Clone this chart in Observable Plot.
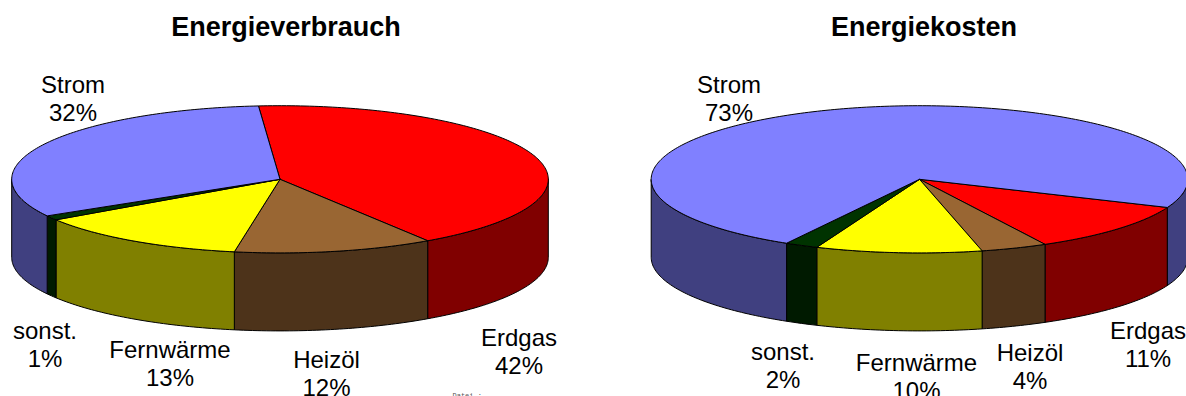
<!DOCTYPE html>
<html lang="de">
<head>
<meta charset="utf-8">
<title>Energieverbrauch und Energiekosten</title>
<script src="https://cdn.jsdelivr.net/npm/d3@7"></script>
<script src="https://cdn.jsdelivr.net/npm/@observablehq/plot@0.6"></script>
<style>
  html, body { margin: 0; padding: 0; background: #fff; overflow: hidden; }
  svg { display: block; overflow: hidden; }
</style>
</head>
<body>
<div id="chart"></div>
<script>
// Energy carriers, clockwise from the start angle of each pie
const categories = ["Erdgas", "Heizöl", "Fernwärme", "sonst.", "Strom"];
const verbrauch = [42, 12, 13, 1, 32];
const kosten = [11, 4, 10, 2, 73];

// Top faces and their darker rims
const topColors = ["#ff0000", "#996633", "#ffff00", "#003300", "#8080ff"];
const rimColors = ["#800000", "#4d331a", "#808000", "#001a00", "#404080"];

// Pie geometry and label placement, relative to each pie's centre
const width = 1186;
const height = 396;
const radiusX = 268.3;
const radiusY = 73.6;
const depth = 78;

const pies = [
  {
    title: "Energieverbrauch", values: verbrauch, cx: 279.5, cy: 178.8, startAngle: -4.6, titleX: 285.5,
    labelOffsets: [[239, 171.7], [46.5, 193.7], [-110, 183.7], [-235, 164.7], [-207, -81.3]]
  },
  {
    title: "Energiekosten", values: kosten, cx: 919, cy: 178.8, startAngle: 112.5, titleX: 923.5,
    labelOffsets: [[228.5, 164.7], [110.5, 186.7], [-3, 196.7], [-136.5, 185.7], [-190.5, -81.3]]
  }
];

const rimKey = (name) => `${name} Rand`;

const point = (pie, angle, drop = 0) => {
  const a = (angle * Math.PI) / 180;
  return { x: pie.cx + radiusX * Math.sin(a), y: pie.cy - radiusY * Math.cos(a) + drop };
};

const arcAngles = (from, to) => {
  const steps = Math.max(1, Math.ceil(to - from));
  return d3.range(steps + 1).map((i) => from + ((to - from) * i) / steps);
};

const topFaces = [];
const rimFaces = [];
const labels = [];

for (const pie of pies) {
  const total = d3.sum(pie.values);
  let angle = pie.startAngle;
  pie.values.forEach((value, i) => {
    const name = categories[i];
    const end = angle + (value / total) * 360;
    const id = `${pie.title}-${name}`;

    // Wedge on the top face
    const wedge = [{ x: pie.cx, y: pie.cy }, ...arcAngles(angle, end).map((a) => point(pie, a)), { x: pie.cx, y: pie.cy }];
    wedge.forEach((p) => topFaces.push({ ...p, id, fill: name }));

    // The rim only shows on the front half of the cylinder
    for (const [lo, hi] of [[90, 270], [450, 630]]) {
      const from = Math.max(angle, lo);
      const to = Math.min(end, hi);
      if (from >= to) continue;
      const angles = arcAngles(from, to);
      const outline = [
        ...angles.map((a) => point(pie, a)),
        ...angles.slice().reverse().map((a) => point(pie, a, depth))
      ];
      outline.push(outline[0]);
      outline.forEach((p) => rimFaces.push({ ...p, id: `${id}-${lo}`, fill: rimKey(name) }));
    }

    labels.push({
      x: pie.cx + pie.labelOffsets[i][0],
      y: pie.cy + pie.labelOffsets[i][1],
      text: `${name}\n${value}%`
    });
    angle = end;
  });
}

const lineOptions = { x: "x", y: "y", z: "id", fill: "fill", stroke: "#000", strokeWidth: 1, strokeLinejoin: "round" };

const chart = Plot.plot({
  width,
  height,
  margin: 0,
  style: { background: "#fff", overflow: "hidden" },
  x: { domain: [0, width], range: [0, width], axis: null },
  y: { domain: [0, height], range: [0, height], axis: null },
  color: {
    type: "ordinal",
    domain: [...categories, ...categories.map(rimKey)],
    range: [...topColors, ...rimColors]
  },
  marks: [
    Plot.line(rimFaces, lineOptions),
    Plot.line(topFaces, lineOptions),
    Plot.text(labels, {
      x: "x", y: "y", text: "text",
      fontFamily: "Liberation Sans", fontSize: 24, lineHeight: 1.18, lineAnchor: "middle",
      fill: "#000"
    }),
    Plot.text(pies, {
      x: "titleX", y: () => 27, text: "title",
      fontFamily: "Liberation Sans", fontSize: 27, fontWeight: "bold", lineAnchor: "middle",
      fill: "#000"
    }),
    Plot.text(["Datei :"], {
      x: () => 452, y: () => 397, text: (d) => d,
      fontFamily: "Liberation Mono", fontSize: 7, textAnchor: "start", lineAnchor: "bottom",
      fill: "#555"
    })
  ]
});

document.getElementById("chart").append(chart);
</script>
</body>
</html>
